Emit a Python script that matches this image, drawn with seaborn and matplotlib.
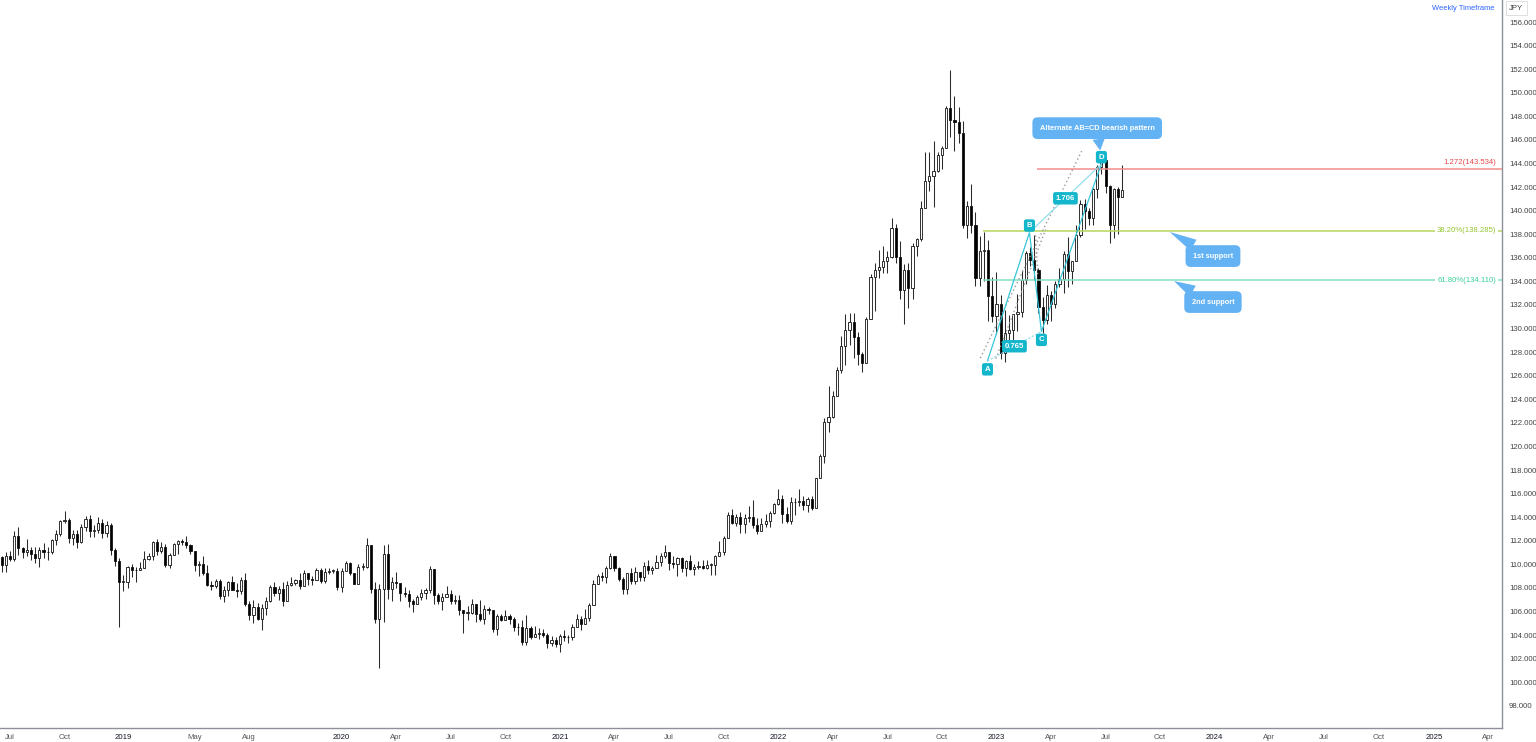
import numpy as np
import pandas as pd
import matplotlib
matplotlib.use("Agg")
import matplotlib.pyplot as plt
import matplotlib.dates as mdates
import seaborn as sns

# style
sns.set_style("white")
plt.rcParams["font.family"] = ["Liberation Sans", "DejaVu Sans"]

# ---- USDJPY weekly candles (week starting monday) ----
first_open = 110.65

close_2018 = [109.97, 110.67, 110.47, 112.39, 111.40, 111.05, 111.25, 110.87, 110.50, 111.24,
              111.03, 111.02, 112.05, 112.59, 113.70, 113.73, 112.21, 112.54, 111.90, 113.21,
              113.83, 112.83, 112.93, 113.47, 112.68, 113.38, 111.22, 110.28, 108.48]
high_2018 = [110.75, 111.06, 111.12, 112.80, 113.18, 111.50, 112.15, 111.50, 111.45, 111.48,
             111.83, 111.50, 112.17, 112.88, 113.80, 114.55, 113.95, 112.90, 112.90, 113.40,
             114.07, 114.20, 113.30, 114.00, 113.84, 113.71, 113.50, 111.40, 110.50]
low_2018 = [109.37, 109.37, 110.27, 110.28, 110.76, 110.58, 110.75, 110.36, 110.10, 109.77,
            110.50, 110.38, 110.86, 111.66, 112.40, 113.50, 111.83, 111.63, 111.37, 111.78,
            112.84, 112.30, 112.30, 112.70, 112.23, 112.30, 110.81, 109.85, 104.70]

close_2019 = [108.50, 109.77, 109.54, 109.49, 109.73, 110.49, 110.69, 111.90, 111.17, 111.46,
              109.91, 110.83, 111.71, 112.01, 111.93, 111.61, 111.11, 109.95, 110.07, 109.29,
              108.28, 108.20, 108.59, 107.31, 107.85, 108.47, 107.84, 107.71, 108.68, 106.60,
              105.68, 106.38, 105.37, 106.28, 106.91, 108.09, 107.56, 107.92, 106.90, 108.29,
              108.44, 108.67, 108.20, 109.26, 108.77, 108.68, 109.50, 108.58, 109.38, 109.42,
              109.42, 108.09]
high_2019 = [109.10, 109.90, 109.99, 109.75, 110.16, 111.13, 110.95, 112.00, 112.13, 111.90,
             111.69, 110.97, 111.80, 112.10, 112.17, 112.40, 111.70, 111.00, 110.32, 110.67,
             109.93, 108.60, 108.80, 108.80, 108.17, 108.60, 108.99, 108.40, 108.90, 109.30,
             106.90, 106.98, 106.70, 106.60, 107.20, 108.25, 108.48, 108.18, 108.47, 108.63,
             108.94, 108.80, 109.29, 109.48, 109.25, 109.00, 109.73, 109.70, 109.70, 109.69,
             109.60, 109.72]
low_2019 = [107.77, 107.98, 108.95, 108.50, 109.60, 110.30, 110.36, 110.40, 110.78, 110.94,
            109.75, 109.70, 110.90, 110.84, 111.60, 111.40, 110.84, 109.47, 109.00, 109.10,
            108.20, 107.80, 108.00, 107.04, 106.78, 107.30, 107.80, 107.20, 107.50, 106.50,
            105.30, 105.06, 105.30, 104.45, 105.74, 106.80, 107.30, 107.00, 106.48, 106.97,
            108.20, 108.25, 107.89, 108.20, 108.25, 108.25, 108.90, 108.43, 108.44, 109.15,
            109.25, 107.86]

close_2020 = [109.46, 110.15, 109.28, 108.35, 109.76, 109.76, 111.60, 107.90, 105.40, 107.95,
              110.85, 107.93, 108.50, 108.45, 107.55, 107.50, 106.90, 106.60, 107.20, 107.60,
              107.80, 109.60, 107.40, 106.90, 107.20, 107.50, 106.90, 107.00, 106.10, 105.90,
              105.90, 106.60, 105.80, 105.35, 106.20, 106.15, 104.55, 105.60, 105.30, 105.60,
              105.40, 104.70, 104.65, 103.40, 104.60, 103.85, 104.10, 104.20, 104.00, 103.30,
              103.60, 103.25]
high_2020 = [109.70, 110.29, 110.20, 109.30, 110.00, 110.14, 112.23, 111.50, 108.50, 108.30,
             111.60, 111.72, 108.90, 109.38, 108.10, 108.05, 107.80, 107.10, 107.40, 107.90,
             108.00, 109.85, 109.60, 107.60, 107.60, 108.16, 107.80, 107.40, 107.40, 106.10,
             106.50, 107.05, 106.60, 106.95, 106.55, 106.40, 106.10, 105.80, 105.80, 106.10,
             105.75, 105.50, 105.00, 105.30, 105.70, 104.75, 104.75, 104.60, 104.55, 104.20,
             103.90, 103.85]
low_2020 = [107.66, 109.50, 109.10, 108.30, 108.30, 109.55, 109.65, 107.60, 105.00, 101.18,
            105.15, 107.10, 106.90, 107.98, 106.90, 107.20, 106.36, 105.98, 106.70, 107.00,
            107.10, 107.60, 106.60, 106.67, 106.10, 107.30, 106.60, 106.65, 105.70, 104.20,
            105.30, 105.80, 105.10, 105.20, 104.90, 105.80, 104.30, 104.00, 105.20, 105.30,
            104.90, 104.35, 104.00, 103.20, 103.20, 103.65, 103.90, 103.65, 103.80, 102.90,
            103.05, 102.95]

close_2021 = [103.95, 103.85, 103.80, 104.70, 105.40, 104.95, 105.45, 106.55, 108.35, 109.05,
              108.90, 109.65, 110.70, 109.65, 108.80, 107.90, 109.30, 108.60, 109.35, 108.95,
              109.85, 109.50, 109.65, 110.20, 110.75, 111.05, 110.15, 110.05, 110.55, 109.70,
              110.25, 109.60, 109.80, 109.85, 109.70, 109.95, 109.95, 110.75, 111.05, 112.20,
              114.20, 113.50, 114.00, 113.40, 113.90, 114.00, 113.30, 112.80, 113.40, 113.70,
              114.35, 115.08]
high_2021 = [104.10, 104.40, 104.05, 104.95, 105.75, 105.60, 106.20, 106.70, 108.65, 109.20,
             109.35, 109.85, 110.97, 110.60, 109.75, 108.90, 109.30, 109.70, 109.80, 109.30,
             110.20, 110.35, 109.85, 110.80, 111.00, 111.65, 111.00, 110.70, 110.60, 110.60,
             110.40, 110.80, 110.00, 110.25, 110.40, 110.40, 110.10, 110.80, 112.00, 112.40,
             114.45, 114.70, 114.30, 114.45, 114.30, 114.95, 115.50, 113.90, 113.95, 114.25,
             114.50, 115.20]
low_2021 = [102.60, 103.50, 103.30, 103.60, 104.70, 104.40, 104.90, 105.20, 106.55, 108.30,
            108.60, 108.40, 109.60, 109.40, 108.60, 107.45, 107.50, 108.35, 108.35, 108.55,
            108.60, 109.20, 109.20, 109.75, 109.90, 110.55, 109.50, 109.70, 109.05, 109.35,
            109.00, 109.55, 109.10, 109.60, 109.60, 109.60, 109.10, 109.10, 110.75, 110.80,
            112.20, 113.40, 113.25, 112.70, 112.70, 113.60, 113.10, 112.55, 113.15, 113.15,
            113.15, 114.30]

close_2022 = [115.55, 114.25, 113.70, 115.25, 115.25, 115.40, 115.00, 115.55, 114.80, 117.30,
              119.20, 122.05, 122.50, 124.30, 126.45, 128.50, 129.85, 130.55, 129.25, 127.85,
              127.10, 130.85, 134.40, 135.00, 135.20, 135.70, 136.10, 138.55, 136.10, 133.25,
              134.95, 133.45, 137.00, 137.60, 140.20, 142.50, 142.90, 143.35, 144.75, 145.30,
              148.70, 147.65, 147.50, 146.60, 138.80, 140.40, 138.80, 134.30, 136.55, 136.70,
              132.80, 131.10]
high_2022 = [116.35, 115.85, 114.90, 115.70, 115.65, 116.35, 115.80, 115.70, 115.80, 117.35,
             119.40, 122.40, 125.10, 124.70, 126.70, 129.40, 131.25, 131.35, 131.35, 129.70,
             128.00, 130.95, 134.60, 135.60, 136.70, 137.00, 136.55, 139.40, 138.85, 137.45,
             135.50, 135.60, 137.25, 137.70, 140.80, 144.98, 144.95, 145.90, 144.95, 145.45,
             148.85, 151.95, 149.70, 148.80, 147.60, 140.80, 142.25, 139.90, 137.85, 138.20,
             137.50, 134.40]
low_2022 = [115.00, 113.50, 113.50, 113.45, 114.15, 114.95, 114.60, 114.40, 114.65, 114.80,
            117.30, 118.60, 121.20, 122.40, 124.25, 126.20, 126.95, 128.60, 127.50, 126.95,
            126.35, 127.50, 130.90, 131.50, 134.30, 134.70, 134.75, 136.00, 135.55, 132.50,
            130.40, 131.75, 132.55, 136.15, 137.40, 141.50, 141.65, 140.35, 143.30, 143.50,
            145.30, 146.25, 145.10, 145.70, 138.50, 137.65, 138.10, 133.60, 133.60, 134.00,
            130.60, 130.55]

close_2023 = [132.10, 127.90, 129.60, 129.85, 131.20, 131.40, 134.10, 136.45, 135.85, 135.00,
              131.80, 130.70, 132.85, 132.10, 133.75, 134.20, 136.30, 134.85, 135.70, 137.95,
              140.60, 139.95, 139.35, 141.85, 143.70, 144.30, 142.10, 138.80, 141.80, 141.20,
              141.75]
high_2023 = [134.80, 132.85, 131.60, 131.15, 131.20, 132.90, 135.00, 136.55, 136.90, 137.90,
             135.10, 132.65, 133.70, 133.20, 134.00, 135.10, 136.55, 137.75, 135.75, 138.75,
             140.90, 140.95, 140.25, 141.95, 143.85, 145.05, 144.65, 142.20, 141.95, 142.00,
             143.90]
low_2023 = [129.50, 127.45, 127.20, 129.00, 128.10, 129.80, 130.95, 133.80, 135.30, 134.10,
            131.30, 129.65, 130.40, 130.60, 131.75, 133.50, 133.00, 133.50, 133.75, 135.70,
            137.75, 138.45, 138.75, 138.80, 141.05, 143.10, 141.50, 137.25, 137.70, 138.05,
            141.50]

# fib levels drawn on the chart
fib_prices = [143.534, 138.285, 134.110]
fib_labels = ["1.272(143.534)", "38.20%(138.285)", "61.80%(134.110)"]
fib_starts = ["2023-03-10", "2022-12-11", "2022-12-11"]

# AB=CD pattern points
pattern_names = ["A", "B", "C", "D"]
pattern_dates = ["2022-12-18", "2023-02-26", "2023-03-18", "2023-06-26"]
pattern_prices = [127.25, 138.15, 129.75, 143.95]
ratio_labels = ["0.765", "1.706"]

# gray dotted guides
guide1_dates = ["2022-12-06", "2023-05-24"]
guide1_prices = [127.5, 145.05]
guide2_dates = ["2023-01-01", "2023-03-25"]
guide2_prices = [127.45, 138.4]
guide3_dates = ["2023-03-08", "2023-03-12"]
guide3_prices = [137.9, 134.5]

# callouts
callout_texts = ["Alternate AB=CD bearish pattern", "1st support", "2nd support"]
callout_box_dates = ["2023-06-19", "2023-12-29", "2023-12-29"]
callout_box_prices = [147.0, 136.15, 132.25]
callout_tip_dates = ["2023-06-24", "2023-10-18", "2023-10-25"]
callout_tip_prices = [145.1, 138.19, 134.03]

# x-axis labels
tick_dates = ["2018-07-02", "2018-10-01", "2019-01-07", "2019-05-06", "2019-08-05",
              "2020-01-06", "2020-04-06", "2020-07-06", "2020-10-05", "2021-01-04",
              "2021-04-05", "2021-07-05", "2021-10-04", "2022-01-03", "2022-04-04",
              "2022-07-04", "2022-10-03", "2023-01-02", "2023-04-03", "2023-07-03",
              "2023-10-01", "2024-01-01", "2024-04-01", "2024-07-01", "2024-10-01",
              "2025-01-01", "2025-04-01"]
tick_labels = ["Jul", "Oct", "2019", "May", "Aug", "2020", "Apr", "Jul", "Oct", "2021",
               "Apr", "Jul", "Oct", "2022", "Apr", "Jul", "Oct", "2023", "Apr", "Jul",
               "Oct", "2024", "Apr", "Jul", "Oct", "2025", "Apr"]

# ---- build frame ----
closes = close_2018 + close_2019 + close_2020 + close_2021 + close_2022 + close_2023
highs = high_2018 + high_2019 + high_2020 + high_2021 + high_2022 + high_2023
lows = low_2018 + low_2019 + low_2020 + low_2021 + low_2022 + low_2023
opens = [first_open] + closes[:-1]
dates = pd.date_range("2018-06-18", periods=len(closes), freq="W-MON")

df = pd.DataFrame({"date": dates, "open": opens, "high": highs, "low": lows, "close": closes})
df["high"] = df[["open", "high", "close"]].max(axis=1)
df["low"] = df[["open", "low", "close"]].min(axis=1)
df["x"] = mdates.date2num(df["date"])
df["up"] = df["close"] >= df["open"]


def dn(d):
    return mdates.date2num(pd.Timestamp(d))


# ---- figure ----
W, H = 1536, 742
fig = plt.figure(figsize=(W / 100, H / 100), dpi=100)
ax = fig.add_axes([0, 14 / H, 1502 / W, 728 / H])

xmin, xmax = dn("2018-06-15 08:00"), dn("2025-04-24")
ax.set_xlim(xmin, xmax)
ax.set_ylim(96.12, 157.87)

# candles
ax.vlines(df["x"], df["low"], df["high"], color="#2b2b2b", lw=0.75, zorder=2)
body = (df["close"] - df["open"]).abs().clip(lower=0.07)
bottom = df[["open", "close"]].min(axis=1)
colors = np.where(df["up"], "white", "black")
ax.bar(df["x"], body, bottom=bottom, width=3.6, color=colors,
       edgecolor="#111111", linewidth=0.6, zorder=3)

# fib lines
fib_line_colors = ["#f28b8b", "#b5d65c", "#82e0c0"]
fib_text_colors = ["#e5484d", "#95c531", "#39cf95"]
x_label = dn("2025-04-14")
for p, lab, s, lc, tc in zip(fib_prices, fib_labels, fib_starts, fib_line_colors, fib_text_colors):
    ax.hlines(p, dn(s), xmax, color=lc, lw=1.1, zorder=4)
    if lab.startswith("1.272"):
        ax.text(x_label, p + 0.25, lab, ha="right", va="bottom", fontsize=5.6, color=tc, zorder=6)
    else:
        ax.text(x_label, p, lab, ha="right", va="center", fontsize=5.6, color=tc, zorder=6,
                bbox=dict(boxstyle="square,pad=0.25", fc="white", ec="none"))

# pattern lines
teal = "#14b6cc"
px = [dn(d) for d in pattern_dates]
sns.lineplot(x=px, y=pattern_prices, ax=ax, color="#38c6da", lw=0.9, sort=False,
             estimator=None, zorder=5)
ax.plot([px[0], px[2]], [pattern_prices[0], pattern_prices[2]], color="#86dbe8",
        lw=0.8, ls=(0, (2, 1.5)), zorder=5)
ax.plot([px[1], px[3]], [pattern_prices[1], pattern_prices[3]], color="#86dbe8",
        lw=0.8, zorder=5)

for gd, gp in [(guide1_dates, guide1_prices), (guide2_dates, guide2_prices),
               (guide3_dates, guide3_prices)]:
    ax.plot([dn(d) for d in gd], gp, color="#9a9a9a", lw=1.0, ls=(0, (1, 2)), zorder=4)

# pattern labels
offsets = [-6, 5, -6, 5]
for name, x, p, off in zip(pattern_names, px, pattern_prices, offsets):
    ax.annotate(name, xy=(x, p), xytext=(0, off), textcoords="offset points",
                ha="center", va="center", fontsize=5.6, fontweight="bold", color="white",
                bbox=dict(boxstyle="round,pad=0.35,rounding_size=0.3", fc=teal, ec="none"),
                zorder=7)
mids = [((px[0] + px[2]) / 2, (pattern_prices[0] + pattern_prices[2]) / 2),
        ((px[1] + px[3]) / 2, (pattern_prices[1] + pattern_prices[3]) / 2)]
for lab, (mx, my) in zip(ratio_labels, mids):
    ax.text(mx, my, lab, ha="center", va="center", fontsize=5.6, fontweight="bold",
            color="white", zorder=7,
            bbox=dict(boxstyle="round,pad=0.35,rounding_size=0.3", fc=teal, ec="none"))

# callouts
blue = "#62b2f4"
for txt, bd, bp, td, tp in zip(callout_texts, callout_box_dates, callout_box_prices,
                               callout_tip_dates, callout_tip_prices):
    ax.annotate(txt, xy=(dn(td), tp), xytext=(dn(bd), bp), ha="center", va="center",
                fontsize=5.3, fontweight="bold", color="white", zorder=8,
                bbox=dict(boxstyle="round,pad=1.0,rounding_size=0.7", fc=blue, ec="none"),
                arrowprops=dict(arrowstyle="wedge,tail_width=0.5,shrink_factor=0.5",
                                fc=blue, ec="none", mutation_scale=18,
                                shrinkA=0, shrinkB=0))

# axes styling
for side in ["top", "left"]:
    ax.spines[side].set_visible(False)
for side in ["right", "bottom"]:
    ax.spines[side].set_color("#8d9099")
    ax.spines[side].set_linewidth(1.0)

ax.yaxis.tick_right()
yt = np.arange(98, 157, 2)
ax.set_yticks(yt)
ax.set_yticklabels(["{:.3f}".format(v) for v in yt])
ax.tick_params(axis="y", length=0, pad=5, labelsize=5.6, colors="#444444")

ax.set_xticks([dn(d) for d in tick_dates])
ax.set_xticklabels(tick_labels)
ax.tick_params(axis="x", length=0, pad=4, labelsize=5.6, colors="#555555")
for t in ax.get_xticklabels():
    if t.get_text().isdigit():
        t.set_color("#131722")
ax.grid(False)

# header texts
fig.text(1495 / W, 1 - 8 / H, "Weekly Timeframe", ha="right", va="center",
         fontsize=5.4, color="#2962ff")
fig.text(1509 / W, 1 - 8 / H, "JPY", ha="left", va="center", fontsize=5.6, color="#444444",
         bbox=dict(boxstyle="square,pad=0.45", fc="white", ec="#d9d9d9", lw=0.6))

fig.savefig("out.png", dpi=100)
